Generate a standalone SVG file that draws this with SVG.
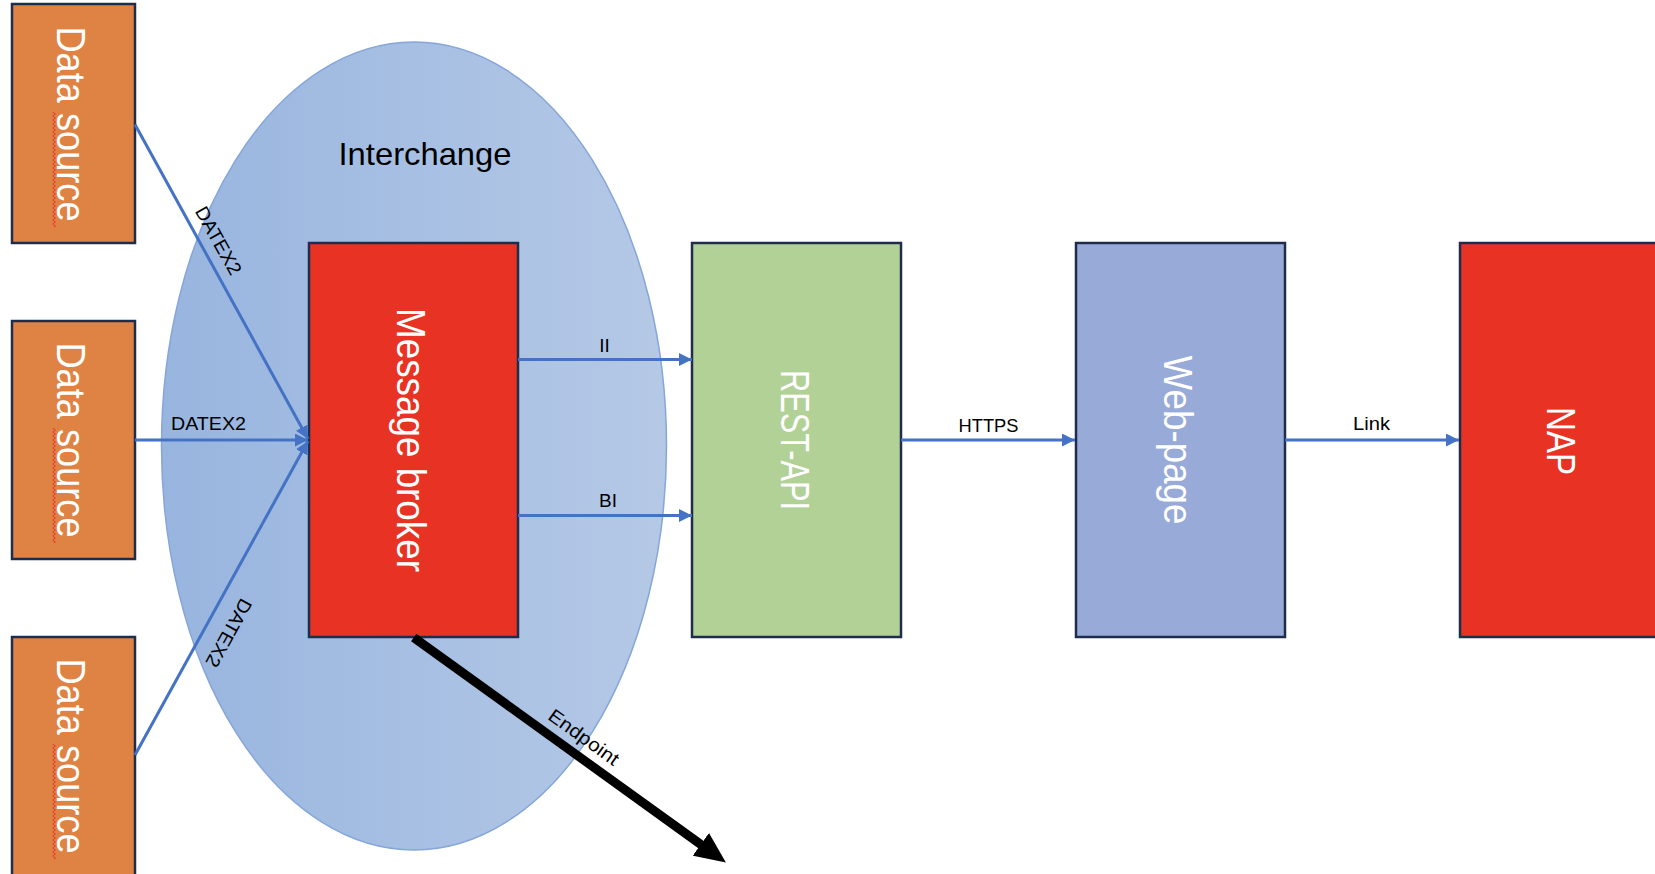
<svg xmlns="http://www.w3.org/2000/svg" width="1655" height="874" viewBox="0 0 1655 874">
<style>
.box{stroke:#1F2C4C;stroke-width:2.5}
.src{fill:#DF8344}
.red{fill:#E83324}
.white{fill:#FFFFFF;font-family:"Liberation Sans",Arial,sans-serif;font-size:40px;text-anchor:middle}
.lbl{fill:#000000;font-family:"Liberation Sans",Arial,sans-serif;font-size:19px;text-anchor:middle}
.conn{stroke:#4472C4;stroke-width:3;fill:none;marker-end:url(#ah)}
</style>
<defs>
<linearGradient id="ellg" x1="0" y1="0" x2="1" y2="0">
<stop offset="0" stop-color="#98B5DF"/>
<stop offset="1" stop-color="#B5C9E6"/>
</linearGradient>
<marker id="ah" markerUnits="userSpaceOnUse" viewBox="0 0 13 13" markerWidth="13" markerHeight="13" refX="13" refY="6.5" orient="auto">
<path d="M0,0 L13,6.5 L0,13 z" fill="#4472C4"/>
</marker>
<marker id="bh" markerUnits="userSpaceOnUse" viewBox="0 -14 31 28" markerWidth="31" markerHeight="28" refX="1" refY="0" orient="auto">
<path d="M0,-14 L31,0 L0,14 z" fill="#000000"/>
</marker>
<pattern id="squig" patternUnits="userSpaceOnUse" x="52" y="0" width="4" height="4">
<path d="M0.5,0 L3.5,2 L0.5,4" fill="none" stroke="#E8372C" stroke-width="1"/>
</pattern>
</defs>
<rect width="1655" height="874" fill="#FFFFFF"/>
<g id="interchange">
<ellipse cx="414" cy="446" rx="252.5" ry="404" fill="url(#ellg)" stroke="#86A6D9" stroke-width="1.5"/>
<text x="425" y="165" font-family="'Liberation Sans',Arial,sans-serif" font-size="32" text-anchor="middle" textLength="173" lengthAdjust="spacingAndGlyphs" fill="#000000">Interchange</text>
</g>
<g id="datasource1">
<rect class="box src" x="12" y="4" width="123" height="239"/>
<rect x="52" y="112" width="4" height="115" fill="url(#squig)"/>
<text class="white" transform="translate(71,124) rotate(90)" dy="0.35em" textLength="195" lengthAdjust="spacingAndGlyphs">Data source</text>
</g>
<g id="datasource2">
<rect class="box src" x="12" y="321" width="123" height="238"/>
<rect x="52" y="428" width="4" height="115" fill="url(#squig)"/>
<text class="white" transform="translate(71,440) rotate(90)" dy="0.35em" textLength="195" lengthAdjust="spacingAndGlyphs">Data source</text>
</g>
<g id="datasource3">
<rect class="box src" x="12" y="637" width="123" height="245"/>
<rect x="52" y="744" width="4" height="115" fill="url(#squig)"/>
<text class="white" transform="translate(71,756) rotate(90)" dy="0.35em" textLength="195" lengthAdjust="spacingAndGlyphs">Data source</text>
</g>
<g id="messagebroker">
<rect class="box red" x="309" y="243" width="209" height="394"/>
<text class="white" transform="translate(411,440) rotate(90)" dy="0.35em" textLength="264" lengthAdjust="spacingAndGlyphs">Message broker</text>
</g>
<g id="restapi">
<rect class="box" fill="#B2D197" x="692" y="243" width="209" height="394"/>
<text class="white" font-size="38" transform="translate(795,440) rotate(90)" dy="0.35em" textLength="140" lengthAdjust="spacingAndGlyphs">REST-API</text>
</g>
<g id="webpage">
<rect class="box" fill="#97AAD8" x="1076" y="243" width="209" height="394"/>
<text class="white" transform="translate(1178,440) rotate(90)" dy="0.35em" textLength="169" lengthAdjust="spacingAndGlyphs">Web-page</text>
</g>
<g id="nap">
<rect class="box red" x="1460" y="243" width="220" height="394"/>
<text class="white" font-size="38" transform="translate(1561,441) rotate(90)" dy="0.35em" textLength="68" lengthAdjust="spacingAndGlyphs">NAP</text>
</g>
<g id="connectors">
<line class="conn" x1="135" y1="124.5" x2="308" y2="439"/>
<line class="conn" x1="135" y1="440" x2="308" y2="440"/>
<line class="conn" x1="135" y1="755" x2="308" y2="441"/>
<line class="conn" x1="518" y1="359.5" x2="692" y2="359.5"/>
<line class="conn" x1="518" y1="515.5" x2="692" y2="515.5"/>
<line class="conn" x1="901" y1="440" x2="1075" y2="440"/>
<line class="conn" x1="1285" y1="440" x2="1459" y2="440"/>
<line x1="413.7" y1="637.5" x2="701.6" y2="845" stroke="#000000" stroke-width="9" marker-end="url(#bh)"/>
<text class="lbl" transform="translate(218.5,240.5) rotate(60.8)" dy="0.35em" textLength="75" lengthAdjust="spacingAndGlyphs">DATEX2</text>
<text class="lbl" x="208.5" y="430" textLength="75" lengthAdjust="spacingAndGlyphs">DATEX2</text>
<text class="lbl" transform="translate(229,633) rotate(118.9)" dy="0.35em" textLength="75" lengthAdjust="spacingAndGlyphs">DATEX2</text>
<text class="lbl" x="604.5" y="351.7">II</text>
<text class="lbl" x="608" y="506.7">BI</text>
<text class="lbl" x="988.5" y="431.7" textLength="60" lengthAdjust="spacingAndGlyphs">HTTPS</text>
<text class="lbl" x="1371.6" y="430" textLength="37" lengthAdjust="spacingAndGlyphs">Link</text>
<text class="lbl" transform="translate(584,737) rotate(35.7)" dy="0.35em" textLength="82" lengthAdjust="spacingAndGlyphs">Endpoint</text>
</g>
</svg>
